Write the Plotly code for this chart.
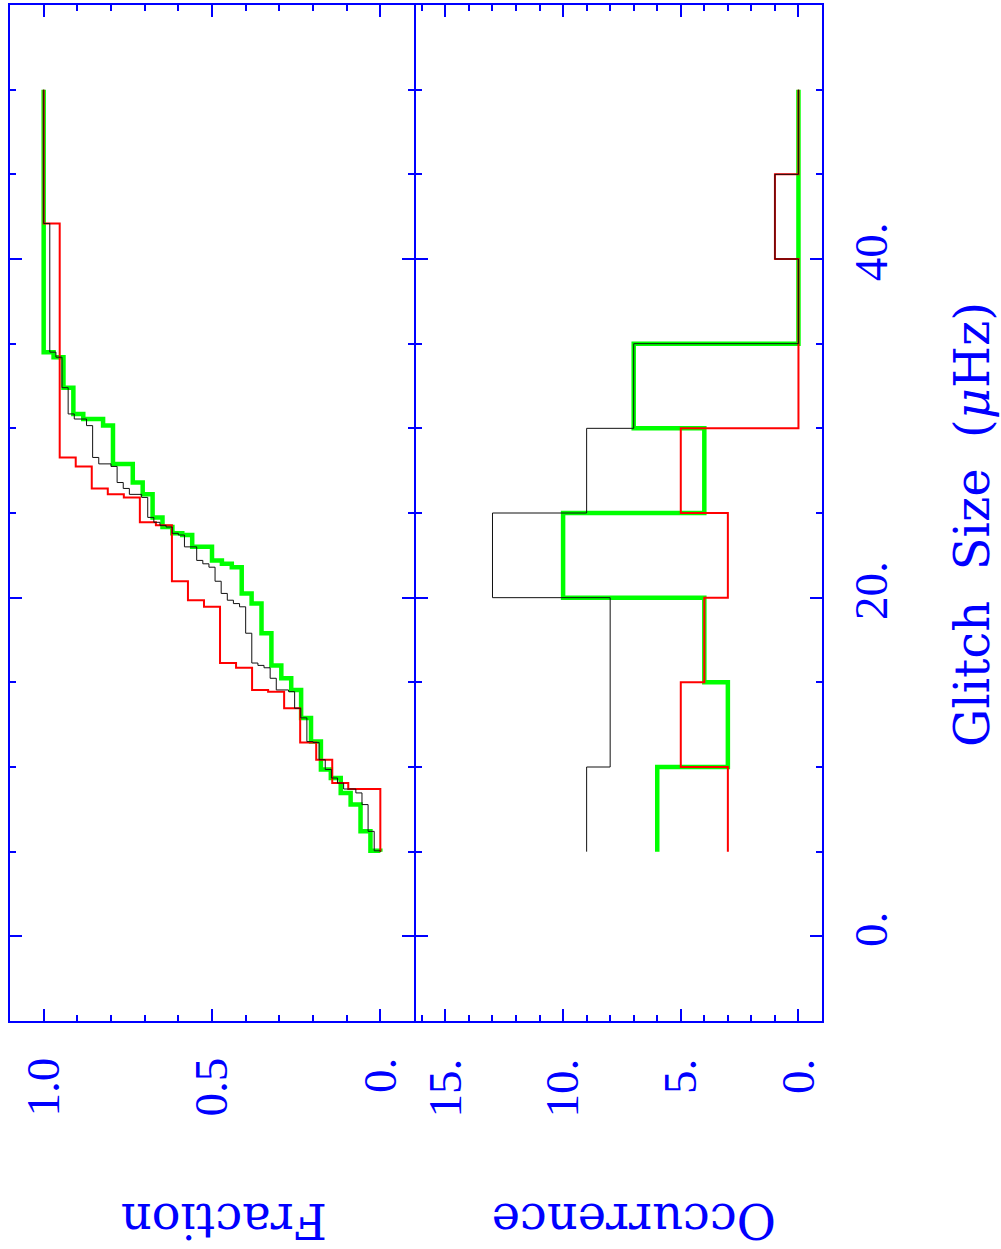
import plotly.graph_objects as go

# ---------------- data ----------------
# individual glitch sizes (uHz) of each sample
red_sizes = [8.70, 8.70, 9.05, 10.43, 11.45, 13.47, 14.45, 14.55, 15.86, 16.14,
             19.46, 19.85, 20.97, 24.27, 24.45, 25.92, 26.10, 26.45, 27.75, 28.28, 42.1]
green_sizes = [5.05, 6.2, 7.78, 8.47, 9.35, 9.85, 11.5, 12.9, 14.55, 15.24,
               16.0, 17.9, 19.65, 20.25, 21.8, 22.0, 22.2, 23.0, 23.0, 23.7,
               23.8, 24.17, 24.74, 26.1, 26.8, 27.9, 27.9, 30.16, 30.55, 30.55,
               30.85, 32.4, 34.2, 34.5]
black_sizes = [5.05, 6.2, 7.78, 8.47, 8.70, 8.70, 9.05, 9.35, 9.85, 10.43,
               11.45, 11.5, 12.9, 13.47, 14.45, 14.55, 14.55, 15.24, 15.86, 16.0,
               16.14, 17.9, 19.46, 19.65, 19.85, 20.25, 20.97, 21.8, 22.0, 22.2,
               23.0, 23.0, 23.7, 23.8, 24.17, 24.27, 24.45, 24.74, 25.92, 26.1,
               26.10, 26.45, 26.8, 27.75, 27.9, 27.9, 28.28, 30.16, 30.55, 30.55,
               30.85, 32.4, 34.2, 34.5, 42.1]

# histogram (occurrence per 5 uHz bin)
bin_edges = [5, 10, 15, 20, 25, 30, 35, 40, 45, 50]
black_counts = [9, 8, 8, 13, 9, 7, 0, 1, 0]
green_counts = [6, 3, 4, 10, 4, 7, 0, 0, 0]
red_counts = [3, 5, 4, 3, 5, 0, 0, 1, 0]

cdf_start, cdf_end = 5.0, 50.0

frac_ticks = [0.0, 0.5, 1.0]
frac_ticktext = ["0.", "0.5", "1.0"]
occ_ticks = [0, 5, 10, 15]
occ_ticktext = ["0.", "5.", "10.", "15."]
size_ticks = [0, 20, 40]
size_ticktext = ["0.", "20.", "40."]


# ---------------- helpers ----------------
def cdf_path(vals, start, end):
    s = sorted(vals)
    n = len(s)
    xs, ys = [0.0], [start]
    for i, v in enumerate(s):
        xs += [i / n, (i + 1) / n]
        ys += [v, v]
    xs.append(1.0)
    ys.append(end)
    return xs, ys


def hist_path(counts, edges):
    xs, ys = [], []
    for i, c in enumerate(counts):
        xs += [c, c]
        ys += [edges[i], edges[i + 1]]
    return xs, ys


BLUE = "#0000ff"
fig = go.Figure()

series = [
    (green_sizes, green_counts, "#00ff00", 4.5),
    (red_sizes, red_counts, "#ff0000", 2),
    (black_sizes, black_counts, "#111111", 1),
]
for sizes, counts, col, w in series:
    cx, cy = cdf_path(sizes, cdf_start, cdf_end)
    fig.add_trace(go.Scatter(x=cx, y=cy, mode="lines", xaxis="x", yaxis="y",
                             line=dict(color=col, width=w), hoverinfo="skip"))
    hx, hy = hist_path(counts, bin_edges)
    fig.add_trace(go.Scatter(x=hx, y=hy, mode="lines", xaxis="x2", yaxis="y2",
                             line=dict(color=col, width=w), hoverinfo="skip"))

tickfont = dict(family="Liberation Serif", size=47, color=BLUE)
titlefont = dict(family="DejaVu Serif", size=48, color=BLUE)

common = dict(showline=True, linecolor=BLUE, linewidth=2, mirror="ticks",
              ticks="inside", ticklen=12, tickwidth=2, tickcolor=BLUE,
              showgrid=False, zeroline=False, tickfont=tickfont,
              tickmode="array")

split = 405 / 812
px1 = 1 / 812

fig.update_layout(
    width=1001, height=1249,
    margin=dict(l=10, r=179, t=3, b=228, pad=0),
    paper_bgcolor="white", plot_bgcolor="white",
    showlegend=False,
    xaxis=dict(domain=[0, split - px1], range=[1.1, -0.1], anchor="y",
               tickvals=frac_ticks, ticktext=frac_ticktext, tickangle=-90,
               ticklabelstandoff=16,
               minor=dict(ticks="inside", ticklen=6, tickwidth=2, tickcolor=BLUE,
                          tickmode="array",
                          tickvals=[0.1, 0.2, 0.3, 0.4, 0.6, 0.7, 0.8, 0.9],
                          showgrid=False),
               **common),
    yaxis=dict(domain=[0, 1], range=[-5, 55], anchor="x",
               tickvals=size_ticks, ticktext=size_ticktext, showticklabels=False,
               minor=dict(ticks="inside", ticklen=6, tickwidth=2, tickcolor=BLUE,
                          tickmode="array",
                          tickvals=[5, 10, 15, 25, 30, 35, 45, 50],
                          showgrid=False),
               **common),
    xaxis2=dict(domain=[split + px1, 1], range=[16.25, -1], anchor="y2",
                tickvals=occ_ticks, ticktext=occ_ticktext, tickangle=-90,
                ticklabelstandoff=17,
                minor=dict(ticks="inside", ticklen=6, tickwidth=2, tickcolor=BLUE,
                           tickmode="array",
                           tickvals=[1, 2, 3, 4, 6, 7, 8, 9, 11, 12, 13, 14, 16],
                           showgrid=False),
                **common),
    yaxis2=dict(domain=[0, 1], range=[-5, 55], anchor="x2", matches="y",
                side="right", tickvals=size_ticks, ticktext=size_ticktext,
                tickangle=-90, ticklabelstandoff=7,
                minor=dict(ticks="inside", ticklen=6, tickwidth=2, tickcolor=BLUE,
                           tickmode="array",
                           tickvals=[5, 10, 15, 25, 30, 35, 45, 50],
                           showgrid=False),
                **common),
)


def px_x(p):
    return (p - 10) / 812


def px_y(p):
    return (1021 - p) / 1018


NB = "\u00a0"
fig.add_annotation(text="Fraction", xref="paper", yref="paper",
                   x=px_x(224), y=px_y(1222), textangle=180, showarrow=False,
                   xanchor="center", yanchor="middle", font=titlefont)
fig.add_annotation(text="Occurrence", xref="paper", yref="paper",
                   x=px_x(634), y=px_y(1222), textangle=180, showarrow=False,
                   xanchor="center", yanchor="middle", font=titlefont)
fig.add_annotation(text="Glitch" + NB * 2 + "Size" + NB * 2 + "(<i>μ</i>Hz)",
                   xref="paper", yref="paper",
                   x=px_x(972), y=px_y(524), textangle=-90, showarrow=False,
                   xanchor="center", yanchor="middle", font=titlefont)

fig.write_html("out.html",
               config={"displayModeBar": False},
               post_script="document.body.style.margin='0';document.body.style.padding='0';")
